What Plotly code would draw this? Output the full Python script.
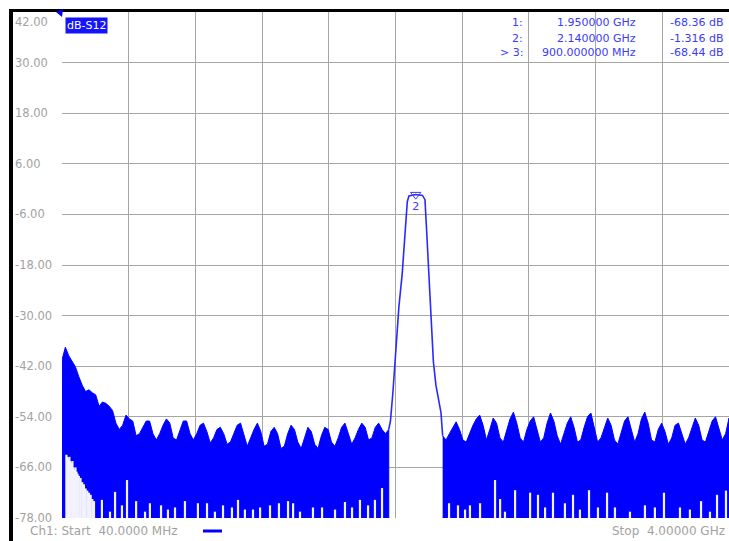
import plotly.graph_objects as go

# ==========================================================
# DATA
# ==========================================================

y_ticks = [42, 30, 18, 6, -6, -18, -30, -42, -54, -66, -78]
y_tick_labels = ["42.00", "30.00", "18.00", "6.00", "-6.00", "-18.00",
                 "-30.00", "-42.00", "-54.00", "-66.00", "-78.00"]

# noise floor below the passband, upper edge of the trace
left_freq_mhz = [
    40, 60, 80, 100, 120, 140, 160, 180, 200, 220,
    240, 260, 280, 300, 320, 340, 360, 380, 400, 420,
    440, 460, 480, 500, 520, 540, 560, 580, 600, 620,
    640, 660, 680, 700, 720, 740, 760, 780, 800, 820,
    840, 860, 880, 900, 920, 940, 960, 980, 1000, 1020,
    1040, 1060, 1080, 1100, 1120, 1140, 1160, 1180, 1200, 1220,
    1240, 1260, 1280, 1300, 1320, 1340, 1360, 1380, 1400, 1420,
    1440, 1460, 1480, 1500, 1520, 1540, 1560, 1580, 1600, 1620,
    1640, 1660, 1680, 1700, 1720, 1740, 1760, 1780, 1800, 1820,
    1840, 1860, 1880, 1900, 1920, 1940, 1960, 1980,
]
left_upper_db = [
    -40.5, -37.5, -39.5, -41.0, -42.2, -44.5, -46.5, -48.0, -47.6, -48.3,
    -48.8, -51.5, -50.5, -50.8, -51.5, -52.5, -55.5, -57.0, -56.0, -53.6,
    -54.5, -55.0, -58.5, -58.0, -56.5, -55.0, -55.0, -58.0, -59.5, -58.0,
    -56.0, -54.5, -55.5, -59.0, -59.5, -57.0, -55.0, -55.0, -58.0, -59.5,
    -58.0, -56.0, -55.5, -57.5, -60.2, -59.0, -57.0, -56.5, -58.0, -60.5,
    -60.0, -58.0, -56.0, -55.5, -58.5, -61.0, -59.0, -57.0, -55.5, -57.5,
    -61.0, -60.5, -57.5, -56.5, -58.0, -61.5, -61.0, -58.0, -56.0, -57.0,
    -60.0, -61.5, -59.0, -56.5, -57.5, -60.5, -61.5, -58.5, -56.5, -57.0,
    -60.0, -61.0, -59.0, -56.5, -55.5, -58.0, -60.5, -59.0, -57.0, -55.5,
    -56.5, -59.5, -59.0, -56.5, -55.5, -57.0, -58.0, -57.0,
]

# noise floor above the passband
right_freq_mhz = [
    2300, 2320, 2340, 2360, 2380, 2400, 2420, 2440, 2460, 2480,
    2500, 2520, 2540, 2560, 2580, 2600, 2620, 2640, 2660, 2680,
    2700, 2720, 2740, 2760, 2780, 2800, 2820, 2840, 2860, 2880,
    2900, 2920, 2940, 2960, 2980, 3000, 3020, 3040, 3060, 3080,
    3100, 3120, 3140, 3160, 3180, 3200, 3220, 3240, 3260, 3280,
    3300, 3320, 3340, 3360, 3380, 3400, 3420, 3440, 3460, 3480,
    3500, 3520, 3540, 3560, 3580, 3600, 3620, 3640, 3660, 3680,
    3700, 3720, 3740, 3760, 3780, 3800, 3820, 3840, 3860, 3880,
    3900, 3920, 3940, 3960, 3980, 4000,
]
right_upper_db = [
    -58.5, -59.5, -58.0, -56.5, -55.2, -57.0, -59.5, -60.0, -58.0, -56.0,
    -54.5, -53.6, -56.0, -59.5, -57.0, -54.3, -55.5, -59.0, -60.0, -57.5,
    -54.5, -52.9, -55.5, -59.0, -60.0, -57.0, -55.0, -54.0, -57.0, -60.0,
    -59.0, -55.5, -53.1, -55.0, -58.5, -60.5, -58.0, -55.5, -54.0, -56.5,
    -60.0, -59.5, -56.5, -54.0, -53.1, -56.5, -60.0, -59.0, -56.5, -54.3,
    -56.0, -59.5, -60.5, -57.5, -55.0, -54.0, -57.0, -60.0, -58.0, -54.5,
    -52.9, -55.5, -59.5, -60.0, -57.0, -55.5, -57.5, -60.5, -59.0, -56.0,
    -55.5, -58.0, -60.5, -59.0, -56.5, -54.3, -56.0, -59.5, -60.0, -57.5,
    -55.0, -54.0, -56.5, -59.5, -58.0, -54.3,
]

# filter passband (single trace line)
pass_freq_mhz = [1980, 1990, 2005, 2025, 2040, 2060, 2075, 2090, 2100, 2140,
                 2180, 2195, 2205, 2215, 2230, 2245, 2260, 2275, 2290, 2300]
pass_db = [-57.0, -55.0, -48.0, -35.0, -28.0, -20.0, -11.0, -3.0, -1.6, -1.3,
           -1.5, -2.5, -10.0, -17.5, -27.0, -41.0, -46.5, -49.5, -53.0, -58.5]

# places where the noise minimum did not reach the bottom of the screen
notch_freq_mhz = [
    66, 72, 78, 84, 90, 96, 102, 108, 114, 120, 126, 132, 140, 150,
    160, 170, 180, 190, 200, 210, 220, 230,
    277, 325, 355, 396, 426, 480, 533, 562, 628, 669, 711, 770, 847, 901,
    948, 996, 1049, 1085, 1126, 1174, 1216, 1275, 1328, 1382, 1412, 1453,
    1530, 1584, 1661, 1720, 1762, 1809, 1857, 1898, 1940,
    2338, 2391, 2433, 2462, 2522, 2611, 2641, 2670, 2730, 2819, 2866, 2908,
    2955, 3026, 3074, 3115, 3169, 3222, 3276, 3323, 3412, 3501, 3560, 3614,
    3709, 3768, 3834, 3887, 3929, 3982,
]
notch_top_db = [
    -63.0, -63.5, -64.0, -63.5, -64.5, -65.0, -64.5, -66.0, -66.5, -66.0, -67.0, -67.5, -68.0, -68.5,
    -69.5, -70.0, -71.0, -71.5, -72.0, -72.5, -73.5, -74.0,
    -73.7, -76.5, -71.8, -75.0, -69.0, -74.0, -76.5, -74.5, -75.0, -76.0, -75.5, -74.0, -74.5, -74.5,
    -76.5, -75.0, -75.5, -73.7, -76.0, -76.0, -75.5, -75.0, -74.5, -74.0, -74.5, -76.5,
    -75.5, -75.5, -76.0, -74.2, -75.5, -73.7, -75.0, -73.7, -70.9,
    -74.5, -75.0, -76.0, -75.0, -74.5, -69.0, -73.5, -76.5, -71.4, -72.0, -72.5, -75.5,
    -72.0, -74.5, -72.5, -76.0, -71.4, -75.5, -72.0, -75.5, -76.5, -75.0, -75.5, -72.0,
    -75.5, -76.0, -74.0, -76.5, -72.5, -71.5,
]

marker_freq_mhz = 2140
marker_db = -1.316

marker_rows = [
    ("1:", "1.950000 GHz", "-68.36 dB"),
    ("2:", "2.140000 GHz", "-1.316 dB"),
    ("> 3:", "900.000000 MHz", "-68.44 dB"),
]

# ==========================================================
# LAYOUT CONSTANTS
# ==========================================================

W, H = 729, 541
M_L, M_R, M_T, M_B = 62, 0, 12, 23
PLOT_W = W - M_L - M_R
PLOT_H = H - M_T - M_B

F_MIN, F_MAX = 40, 4000
Y_MIN, Y_MAX = -78, 42

TRACE = "#0000ff"
GRID = "#a6a6a6"
TEXT_GREY = "#a2a2a2"
TABLE_BLUE = "#3a3aff"
FONT = "DejaVu Sans, Verdana, sans-serif"


def px_x(px):
    return (px - M_L) / PLOT_W


def px_y(py):
    return (M_T + PLOT_H - py) / PLOT_H


fig = go.Figure()

# ==========================================================
# TRACES
# ==========================================================

for freqs, uppers in ((left_freq_mhz, left_upper_db), (right_freq_mhz, right_upper_db)):
    fig.add_trace(go.Scatter(
        x=freqs + [freqs[-1], freqs[0]],
        y=uppers + [Y_MIN, Y_MIN],
        mode="lines",
        fill="toself",
        fillcolor=TRACE,
        line=dict(color=TRACE, width=1),
        hoverinfo="skip",
    ))

# white gaps at the bottom of the noise band, drawn as short vertical strokes
notch_x, notch_y = [], []
for f, top in zip(notch_freq_mhz, notch_top_db):
    notch_x += [f, f, None]
    notch_y += [Y_MIN, top, None]

fig.add_trace(go.Scatter(
    x=notch_x,
    y=notch_y,
    mode="lines",
    line=dict(color="#f2f2ff", width=2.2),
    hoverinfo="skip",
))

fig.add_trace(go.Scatter(
    x=pass_freq_mhz,
    y=pass_db,
    mode="lines",
    line=dict(color="#2a2aff", width=1.6),
    hoverinfo="skip",
))

fig.add_trace(go.Scatter(
    x=[marker_freq_mhz],
    y=[marker_db],
    mode="markers+text",
    marker=dict(symbol="triangle-down-open", size=9, color="#3a3aff",
                line=dict(width=1)),
    text=["2"],
    textposition="bottom center",
    textfont=dict(family=FONT, size=11, color="#3a3aff"),
    hoverinfo="skip",
))

# ==========================================================
# AXES / LAYOUT
# ==========================================================

fig.update_xaxes(
    range=[F_MIN, F_MAX],
    tick0=F_MIN,
    dtick=(F_MAX - F_MIN) / 10,
    showgrid=True,
    gridcolor=GRID,
    gridwidth=1,
    zeroline=False,
    showticklabels=False,
    showline=False,
)

fig.update_yaxes(
    range=[Y_MIN, Y_MAX],
    tick0=Y_MIN,
    dtick=12,
    showgrid=True,
    gridcolor=GRID,
    gridwidth=1,
    zeroline=False,
    showticklabels=False,
    showline=False,
)

fig.update_layout(
    width=W,
    height=H,
    margin=dict(l=M_L, r=M_R, t=M_T, b=M_B, pad=0),
    paper_bgcolor="white",
    plot_bgcolor="white",
    showlegend=False,
)

# ==========================================================
# TEXT
# ==========================================================

annotations = []

for val, label in zip(y_ticks, y_tick_labels):
    annotations.append(dict(
        x=px_x(13), xref="paper", xanchor="left",
        y=val, yref="y", yanchor="middle",
        yshift=-10 if val == Y_MAX else 0,
        text=label, showarrow=False,
        font=dict(family=FONT, size=11.5, color=TEXT_GREY),
    ))

annotations.append(dict(
    x=px_x(65), xref="paper", xanchor="left",
    y=px_y(17), yref="paper", yanchor="top",
    text="dB-S12", showarrow=False,
    bgcolor="#1414ff", borderpad=1,
    font=dict(family=FONT, size=11, color="white"),
))

row_y = [23, 38, 53]
col_x = [525, 638, 726]
for py, row in zip(row_y, marker_rows):
    for px, cell in zip(col_x, row):
        annotations.append(dict(
            x=px_x(px), xref="paper", xanchor="right",
            y=px_y(py), yref="paper", yanchor="middle",
            text=cell, showarrow=False,
            font=dict(family=FONT, size=11, color=TABLE_BLUE),
        ))

annotations.append(dict(
    x=px_x(28), xref="paper", xanchor="left",
    y=px_y(531), yref="paper", yanchor="middle",
    text="Ch1: Start  40.0000 MHz", showarrow=False,
    font=dict(family=FONT, size=12, color=TEXT_GREY),
))
annotations.append(dict(
    x=px_x(727), xref="paper", xanchor="right",
    y=px_y(531), yref="paper", yanchor="middle",
    text="Stop  4.00000 GHz", showarrow=False,
    font=dict(family=FONT, size=12, color=TEXT_GREY),
))

fig.update_layout(annotations=annotations)

# ==========================================================
# SCREEN FRAME AND SMALL SYMBOLS
# ==========================================================

shapes = [
    # black bezel, top and left
    dict(type="line", xref="paper", yref="paper",
         x0=px_x(9), x1=px_x(729), y0=px_y(10.5), y1=px_y(10.5),
         line=dict(color="black", width=3), layer="above"),
    dict(type="line", xref="paper", yref="paper",
         x0=px_x(11), x1=px_x(11), y0=px_y(9), y1=px_y(541),
         line=dict(color="black", width=4), layer="above"),
    # trace colour swatch in the status line
    dict(type="line", xref="paper", yref="paper",
         x0=px_x(203), x1=px_x(222), y0=px_y(531), y1=px_y(531),
         line=dict(color=TRACE, width=3), layer="above"),
    # reference level pointer
    dict(type="path", xref="paper", yref="paper",
         path="M {} {} L {} {} L {} {} Z".format(
             px_x(56), px_y(12), px_x(63), px_y(9), px_x(62), px_y(17)),
         fillcolor=TRACE, line=dict(color=TRACE, width=0), layer="above"),
]

fig.update_layout(shapes=shapes)

# the page body has a default 8px margin; drop it so the figure sits at 0,0
fig.write_html(
    "out.html",
    config={"displayModeBar": False},
    post_script="document.body.style.margin='0';document.body.style.overflow='hidden';",
)
